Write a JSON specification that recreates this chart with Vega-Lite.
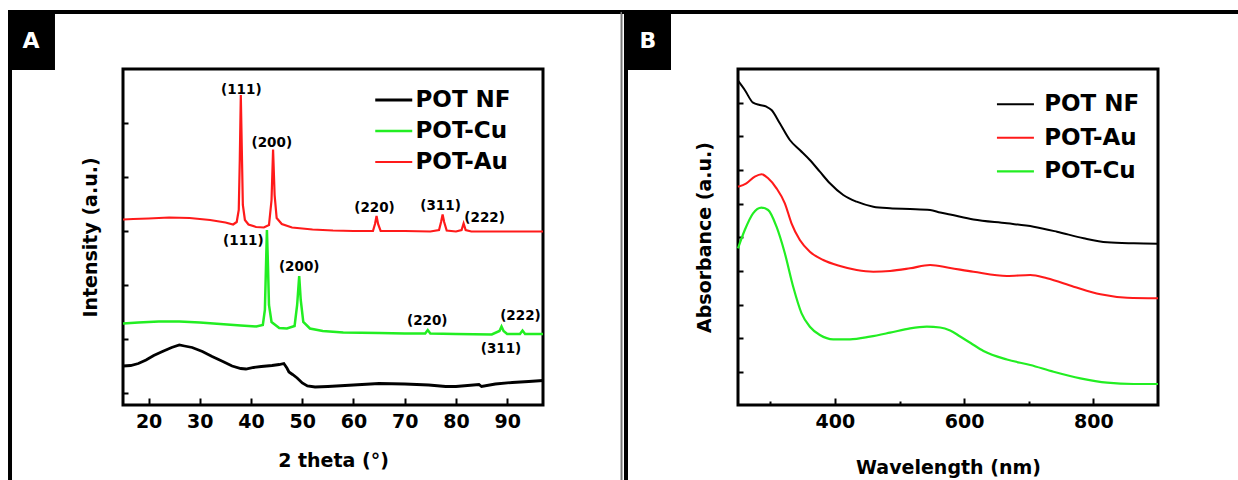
{
  "$schema": "https://vega.github.io/schema/vega-lite/v6.json",
  "background": "white",
  "padding": {"left": 4, "top": 6, "right": 0, "bottom": 0},
  "autosize": {"type": "pad"},
  "bounds": "flush",
  "spacing": 195,
  "config": {
    "view": {"stroke": "black", "strokeWidth": 3},
    "axis": {"domain": false, "grid": false, "tickColor": "black", "tickWidth": 2,
      "labelFont": "DejaVu Sans", "labelFontWeight": "bold", "labelFontSize": 19, "labelColor": "black",
      "titleFont": "DejaVu Sans", "titleFontWeight": "bold", "titleFontSize": 19, "titleColor": "black"},
    "legend": {"title": null, "orient": "none", "padding": 0, "symbolType": "M-1,0H3", "symbolSize": 342,
      "symbolStrokeWidth": 2.5, "labelFont": "DejaVu Sans", "labelFontWeight": "bold", "labelFontSize": 23,
      "labelColor": "black", "labelLimit": 300}
  },
  "resolve": {"scale": {"color": "independent", "strokeWidth": "independent"}, "legend": {"color": "independent"}},
  "datasets": {
    "xrd": [
      {"s":"POT-Au","t":15,"i":185.5},{"s":"POT-Au","t":17,"i":186},{"s":"POT-Au","t":20,"i":186.5},{"s":"POT-Au","t":24,"i":187.5},
      {"s":"POT-Au","t":28,"i":187},{"s":"POT-Au","t":32,"i":185},{"s":"POT-Au","t":35,"i":182.5},{"s":"POT-Au","t":36.5,"i":180.5},
      {"s":"POT-Au","t":37.2,"i":183},{"s":"POT-Au","t":37.6,"i":195},{"s":"POT-Au","t":37.8,"i":245},{"s":"POT-Au","t":38.0,"i":310},
      {"s":"POT-Au","t":38.2,"i":255},{"s":"POT-Au","t":38.4,"i":200},{"s":"POT-Au","t":38.8,"i":185},{"s":"POT-Au","t":39.5,"i":180.5},
      {"s":"POT-Au","t":41,"i":178},{"s":"POT-Au","t":42.5,"i":177.5},{"s":"POT-Au","t":43.5,"i":180},{"s":"POT-Au","t":44.0,"i":205},
      {"s":"POT-Au","t":44.3,"i":255.5},{"s":"POT-Au","t":44.6,"i":210},{"s":"POT-Au","t":45,"i":187},{"s":"POT-Au","t":46,"i":181},
      {"s":"POT-Au","t":48,"i":177.5},{"s":"POT-Au","t":52,"i":175.5},{"s":"POT-Au","t":56,"i":174.5},{"s":"POT-Au","t":60,"i":174},
      {"s":"POT-Au","t":63.8,"i":174},{"s":"POT-Au","t":64.2,"i":181},{"s":"POT-Au","t":64.5,"i":189},{"s":"POT-Au","t":64.8,"i":181},
      {"s":"POT-Au","t":65.3,"i":174},{"s":"POT-Au","t":70,"i":174},{"s":"POT-Au","t":75,"i":173.5},{"s":"POT-Au","t":76.7,"i":175},
      {"s":"POT-Au","t":77.1,"i":183},{"s":"POT-Au","t":77.4,"i":190.5},{"s":"POT-Au","t":77.7,"i":183},{"s":"POT-Au","t":78.2,"i":174.5},
      {"s":"POT-Au","t":80,"i":173.5},{"s":"POT-Au","t":81.1,"i":175},{"s":"POT-Au","t":81.5,"i":181.5},{"s":"POT-Au","t":81.9,"i":175},
      {"s":"POT-Au","t":83,"i":173.5},{"s":"POT-Au","t":90,"i":173.5},{"s":"POT-Au","t":97,"i":173.5},
      {"s":"POT-Cu","t":15,"i":81.5},{"s":"POT-Cu","t":18,"i":82.5},{"s":"POT-Cu","t":22,"i":83.5},{"s":"POT-Cu","t":26,"i":83.5},
      {"s":"POT-Cu","t":30,"i":82.5},{"s":"POT-Cu","t":34,"i":81},{"s":"POT-Cu","t":38,"i":79.5},{"s":"POT-Cu","t":41,"i":78.5},
      {"s":"POT-Cu","t":42.3,"i":80},{"s":"POT-Cu","t":42.7,"i":95},{"s":"POT-Cu","t":42.9,"i":135},{"s":"POT-Cu","t":43.1,"i":175},
      {"s":"POT-Cu","t":43.3,"i":140},{"s":"POT-Cu","t":43.5,"i":100},{"s":"POT-Cu","t":44.0,"i":83},{"s":"POT-Cu","t":45.5,"i":77},
      {"s":"POT-Cu","t":47,"i":76.5},{"s":"POT-Cu","t":48.5,"i":79},{"s":"POT-Cu","t":49.0,"i":100},{"s":"POT-Cu","t":49.4,"i":129},
      {"s":"POT-Cu","t":49.7,"i":105},{"s":"POT-Cu","t":50.2,"i":83},{"s":"POT-Cu","t":51.5,"i":76.5},{"s":"POT-Cu","t":54,"i":74},
      {"s":"POT-Cu","t":58,"i":72.5},{"s":"POT-Cu","t":65,"i":72},{"s":"POT-Cu","t":70,"i":71.5},{"s":"POT-Cu","t":74,"i":71.5},
      {"s":"POT-Cu","t":74.5,"i":75},{"s":"POT-Cu","t":75,"i":71.5},{"s":"POT-Cu","t":80,"i":71},{"s":"POT-Cu","t":87,"i":70.5},
      {"s":"POT-Cu","t":88.5,"i":74},{"s":"POT-Cu","t":88.9,"i":78.5},{"s":"POT-Cu","t":89.3,"i":74},{"s":"POT-Cu","t":90,"i":71},
      {"s":"POT-Cu","t":92.5,"i":71},{"s":"POT-Cu","t":93.0,"i":74.5},{"s":"POT-Cu","t":93.5,"i":71},{"s":"POT-Cu","t":97,"i":71},
      {"s":"POT NF","t":15,"i":39},{"s":"POT NF","t":16.5,"i":39.5},{"s":"POT NF","t":18,"i":41.5},{"s":"POT NF","t":19.5,"i":45},
      {"s":"POT NF","t":21,"i":49.5},{"s":"POT NF","t":22.7,"i":53.5},{"s":"POT NF","t":24.5,"i":57.5},{"s":"POT NF","t":26,"i":60},
      {"s":"POT NF","t":27,"i":59},{"s":"POT NF","t":28.5,"i":57.5},{"s":"POT NF","t":30.5,"i":53.5},{"s":"POT NF","t":32.4,"i":48.5},
      {"s":"POT NF","t":34.5,"i":43.5},{"s":"POT NF","t":36.3,"i":39},{"s":"POT NF","t":38,"i":36.5},{"s":"POT NF","t":39,"i":36},
      {"s":"POT NF","t":40.5,"i":37.5},{"s":"POT NF","t":42,"i":38.5},{"s":"POT NF","t":44.1,"i":39.5},{"s":"POT NF","t":45.5,"i":40.5},
      {"s":"POT NF","t":46.4,"i":41.5},{"s":"POT NF","t":47,"i":37},{"s":"POT NF","t":47.4,"i":33},{"s":"POT NF","t":48.1,"i":30.5},
      {"s":"POT NF","t":49,"i":27},{"s":"POT NF","t":50,"i":22},{"s":"POT NF","t":51,"i":19},{"s":"POT NF","t":52.5,"i":18},
      {"s":"POT NF","t":55,"i":18.5},{"s":"POT NF","t":60,"i":20},{"s":"POT NF","t":65,"i":21.5},{"s":"POT NF","t":70,"i":21},
      {"s":"POT NF","t":74.7,"i":20},{"s":"POT NF","t":78,"i":18.5},{"s":"POT NF","t":80,"i":18.5},{"s":"POT NF","t":84.5,"i":20.5},
      {"s":"POT NF","t":85,"i":18.5},{"s":"POT NF","t":87.7,"i":21},{"s":"POT NF","t":91,"i":22.5},{"s":"POT NF","t":94.2,"i":23.5},
      {"s":"POT NF","t":97,"i":24.5}
    ],
    "peaks": [
      {"t":38.1,"i":315,"lab":"(111)"},{"t":44.05,"i":261.7,"lab":"(200)"},{"t":64.1,"i":196.7,"lab":"(220)"},
      {"t":77.0,"i":199,"lab":"(311)"},{"t":85.6,"i":186.7,"lab":"(222)"},
      {"t":38.5,"i":164.3,"lab":"(111)"},{"t":49.4,"i":138.3,"lab":"(200)"},{"t":74.4,"i":84.3,"lab":"(220)"},
      {"t":92.6,"i":89,"lab":"(222)"},{"t":88.8,"i":56.3,"lab":"(311)"}
    ],
    "uv": [
      {"s":"POT NF","w":250,"a":324.3},{"s":"POT NF","w":260.5,"a":315},{"s":"POT NF","w":273.3,"a":302.3},{"s":"POT NF","w":283.7,"a":300},
      {"s":"POT NF","w":294,"a":298.3},{"s":"POT NF","w":301.9,"a":295},{"s":"POT NF","w":314.7,"a":281.7},{"s":"POT NF","w":330.2,"a":265},
      {"s":"POT NF","w":345.7,"a":255},{"s":"POT NF","w":361.2,"a":245},{"s":"POT NF","w":376.7,"a":233.3},{"s":"POT NF","w":392.2,"a":221.7},
      {"s":"POT NF","w":412.9,"a":210},{"s":"POT NF","w":433.6,"a":203.3},{"s":"POT NF","w":459.4,"a":198.3},{"s":"POT NF","w":485.3,"a":196.7},
      {"s":"POT NF","w":516.3,"a":196},{"s":"POT NF","w":547.3,"a":195},{"s":"POT NF","w":563,"a":192.5},{"s":"POT NF","w":578.3,"a":190.5},
      {"s":"POT NF","w":614.4,"a":185.5},{"s":"POT NF","w":666.2,"a":181.7},{"s":"POT NF","w":707.4,"a":178.3},{"s":"POT NF","w":743.7,"a":173.3},
      {"s":"POT NF","w":785,"a":166.7},{"s":"POT NF","w":821.2,"a":162.7},{"s":"POT NF","w":862.5,"a":161.7},{"s":"POT NF","w":900,"a":161.3},
      {"s":"POT-Au","w":250,"a":218.3},{"s":"POT-Au","w":263,"a":221.7},{"s":"POT-Au","w":276,"a":228.3},{"s":"POT-Au","w":286.4,"a":230.7},
      {"s":"POT-Au","w":296.6,"a":226.7},{"s":"POT-Au","w":309.6,"a":216.7},{"s":"POT-Au","w":322.5,"a":201.7},{"s":"POT-Au","w":332.8,"a":181.7},
      {"s":"POT-Au","w":345.7,"a":165},{"s":"POT-Au","w":361.2,"a":153.3},{"s":"POT-Au","w":381.9,"a":145},{"s":"POT-Au","w":407.8,"a":139},
      {"s":"POT-Au","w":433.6,"a":135},{"s":"POT-Au","w":459.4,"a":133.3},{"s":"POT-Au","w":485.3,"a":134},{"s":"POT-Au","w":516.3,"a":136.7},
      {"s":"POT-Au","w":547.3,"a":140},{"s":"POT-Au","w":578.3,"a":137},{"s":"POT-Au","w":614.4,"a":133.3},{"s":"POT-Au","w":666.2,"a":129},
      {"s":"POT-Au","w":702.3,"a":130},{"s":"POT-Au","w":728.2,"a":126.7},{"s":"POT-Au","w":769.5,"a":118.3},{"s":"POT-Au","w":810.9,"a":110.7},
      {"s":"POT-Au","w":852.2,"a":107.3},{"s":"POT-Au","w":900,"a":106.7},
      {"s":"POT-Cu","w":250,"a":156.7},{"s":"POT-Cu","w":260.5,"a":175},{"s":"POT-Cu","w":273.3,"a":191.7},{"s":"POT-Cu","w":286.4,"a":197.3},
      {"s":"POT-Cu","w":296.6,"a":195},{"s":"POT-Cu","w":309.6,"a":178.3},{"s":"POT-Cu","w":322.5,"a":151.7},{"s":"POT-Cu","w":335.4,"a":118.3},
      {"s":"POT-Cu","w":348.4,"a":91.7},{"s":"POT-Cu","w":361.2,"a":78.3},{"s":"POT-Cu","w":376.7,"a":70},{"s":"POT-Cu","w":397.4,"a":65.7},
      {"s":"POT-Cu","w":423.3,"a":65.7},{"s":"POT-Cu","w":454.3,"a":68.3},{"s":"POT-Cu","w":485.3,"a":72.3},{"s":"POT-Cu","w":516.3,"a":76.7},
      {"s":"POT-Cu","w":542.2,"a":78.3},{"s":"POT-Cu","w":562.8,"a":77.5},{"s":"POT-Cu","w":578.3,"a":74.5},{"s":"POT-Cu","w":593.8,"a":68.5},
      {"s":"POT-Cu","w":610,"a":62},{"s":"POT-Cu","w":629.9,"a":54},{"s":"POT-Cu","w":666.2,"a":45.5},{"s":"POT-Cu","w":702.3,"a":40},{"s":"POT-Cu","w":738.4,"a":33.3},
      {"s":"POT-Cu","w":779.8,"a":26.7},{"s":"POT-Cu","w":821.2,"a":22.3},{"s":"POT-Cu","w":862.5,"a":21},{"s":"POT-Cu","w":900,"a":21}
    ]
  },
  "hconcat": [
    {
      "width": 420, "height": 336,
      "layer": [
        {
          "data": {"name": "xrd"},
          "mark": {"type": "line", "interpolate": "linear"},
          "encoding": {
            "x": {"field": "t", "type": "quantitative", "scale": {"domain": [15, 97], "nice": false, "zero": false},
              "axis": {"title": "2 theta (°)", "values": [20,25,30,35,40,45,50,55,60,65,70,75,80,85,90,95],
                "labelExpr": "datum.value % 10 === 0 ? datum.label : ''",
                "tickSize": {"condition": {"test": "datum.value % 10 === 0", "value": -7}, "value": -4},
                "labelPadding": 14, "titlePadding": 20}},
            "y": {"field": "i", "type": "quantitative", "scale": {"domain": [0, 336], "nice": false, "zero": false},
              "axis": {"title": "Intensity (a.u.)", "labels": false,
                "values": [12.5,39.4,66.3,93.2,120.1,147,173.9,200.8,227.7,254.6,281.5,308.4],
                "tickSize": -5, "titlePadding": 22}},
            "color": {"field": "s", "type": "nominal",
              "scale": {"domain": ["POT NF", "POT-Cu", "POT-Au"], "range": ["#000000", "#22ee22", "#ff1a1a"]},
              "legend": {"legendX": 250, "legendY": 19.5, "labelOffset": 19.5, "rowPadding": 7}},
            "strokeWidth": {"field": "s", "type": "nominal",
              "scale": {"domain": ["POT NF", "POT-Cu", "POT-Au"], "range": [2.8, 2.2, 2.2]}, "legend": null}
          }
        },
        {
          "data": {"name": "peaks"},
          "mark": {"type": "text", "font": "DejaVu Sans", "fontWeight": "bold", "fontSize": 13.5, "color": "black", "baseline": "middle", "align": "center"},
          "encoding": {
            "x": {"field": "t", "type": "quantitative", "scale": {"domain": [15, 97], "nice": false, "zero": false}},
            "y": {"field": "i", "type": "quantitative", "scale": {"domain": [0, 336], "nice": false, "zero": false}},
            "text": {"field": "lab"}
          }
        },
        {
          "data": {"values": [{}]},
          "mark": {"type": "rule", "color": "black", "strokeWidth": 4},
          "encoding": {
            "x": {"datum": -7.45, "type": "quantitative", "scale": {"domain": [15, 97], "nice": false, "zero": false}},
            "x2": {"datum": 112.42},
            "y": {"datum": 393, "type": "quantitative", "scale": {"domain": [0, 336], "nice": false, "zero": false}}
          }
        },
        {
          "data": {"values": [{}]},
          "mark": {"type": "rule", "color": "black", "strokeWidth": 4},
          "encoding": {
            "x": {"datum": -7.06, "type": "quantitative", "scale": {"domain": [15, 97], "nice": false, "zero": false}},
            "y": {"datum": 395, "type": "quantitative", "scale": {"domain": [0, 336], "nice": false, "zero": false}},
            "y2": {"datum": -85}
          }
        },
        {
          "data": {"values": [{}]},
          "mark": {"type": "rule", "color": "#777777", "strokeWidth": 2},
          "encoding": {
            "x": {"datum": 112.33, "type": "quantitative", "scale": {"domain": [15, 97], "nice": false, "zero": false}},
            "y": {"datum": 393, "type": "quantitative", "scale": {"domain": [0, 336], "nice": false, "zero": false}},
            "y2": {"datum": -85}
          }
        },
        {
          "data": {"values": [{}]},
          "mark": {"type": "rect", "color": "black"},
          "encoding": {
            "x": {"datum": -7.45, "type": "quantitative", "scale": {"domain": [15, 97], "nice": false, "zero": false}},
            "x2": {"datum": 1.72},
            "y": {"datum": 393, "type": "quantitative", "scale": {"domain": [0, 336], "nice": false, "zero": false}},
            "y2": {"datum": 335}
          }
        },
        {
          "data": {"values": [{}]},
          "mark": {"type": "text", "text": "A", "font": "DejaVu Sans", "fontWeight": "bold", "fontSize": 22, "color": "white", "align": "center", "baseline": "middle"},
          "encoding": {
            "x": {"datum": -2.96, "type": "quantitative", "scale": {"domain": [15, 97], "nice": false, "zero": false}},
            "y": {"datum": 364, "type": "quantitative", "scale": {"domain": [0, 336], "nice": false, "zero": false}}
          }
        }
      ]
    },
    {
      "width": 420, "height": 336,
      "layer": [
        {
          "data": {"name": "uv"},
          "mark": {"type": "line", "interpolate": "monotone"},
          "encoding": {
            "x": {"field": "w", "type": "quantitative", "scale": {"domain": [250, 900], "nice": false, "zero": false},
              "axis": {"title": "Wavelength (nm)", "values": [300,400,500,600,700,800],
                "labelExpr": "datum.value % 200 === 0 ? datum.label : ''",
                "tickSize": {"condition": {"test": "datum.value % 200 === 0", "value": -7}, "value": -4},
                "labelPadding": 14, "titlePadding": 27}},
            "y": {"field": "a", "type": "quantitative", "scale": {"domain": [0, 336], "nice": false, "zero": false},
              "axis": {"title": "Absorbance (a.u.)", "labels": false,
                "values": [33.3,66.9,100.5,134.1,167.7,201.3,234.9,268.5,302.1],
                "tickSize": -5, "titlePadding": 23}},
            "color": {"field": "s", "type": "nominal",
              "scale": {"domain": ["POT NF", "POT-Au", "POT-Cu"], "range": ["#000000", "#ff1a1a", "#22ee22"]},
              "legend": {"legendX": 256.7, "legendY": 23.8, "labelOffset": 26.5, "rowPadding": 9.5}},
            "strokeWidth": {"field": "s", "type": "nominal",
              "scale": {"domain": ["POT NF", "POT-Au", "POT-Cu"], "range": [2, 2.2, 2.6]}, "legend": null}
          }
        },
        {
          "data": {"values": [{}]},
          "mark": {"type": "rule", "color": "black", "strokeWidth": 4},
          "encoding": {
            "x": {"datum": 70.48, "type": "quantitative", "scale": {"domain": [250, 900], "nice": false, "zero": false}},
            "x2": {"datum": 1026.9},
            "y": {"datum": 393, "type": "quantitative", "scale": {"domain": [0, 336], "nice": false, "zero": false}}
          }
        },
        {
          "data": {"values": [{}]},
          "mark": {"type": "rule", "color": "black", "strokeWidth": 4},
          "encoding": {
            "x": {"datum": 76.67, "type": "quantitative", "scale": {"domain": [250, 900], "nice": false, "zero": false}},
            "y": {"datum": 395, "type": "quantitative", "scale": {"domain": [0, 336], "nice": false, "zero": false}},
            "y2": {"datum": -85}
          }
        },
        {
          "data": {"values": [{}]},
          "mark": {"type": "rect", "color": "black"},
          "encoding": {
            "x": {"datum": 73.57, "type": "quantitative", "scale": {"domain": [250, 900], "nice": false, "zero": false}},
            "x2": {"datum": 146.31},
            "y": {"datum": 393, "type": "quantitative", "scale": {"domain": [0, 336], "nice": false, "zero": false}},
            "y2": {"datum": 335}
          }
        },
        {
          "data": {"values": [{}]},
          "mark": {"type": "text", "text": "B", "font": "DejaVu Sans", "fontWeight": "bold", "fontSize": 22, "color": "white", "align": "center", "baseline": "middle"},
          "encoding": {
            "x": {"datum": 110.71, "type": "quantitative", "scale": {"domain": [250, 900], "nice": false, "zero": false}},
            "y": {"datum": 364, "type": "quantitative", "scale": {"domain": [0, 336], "nice": false, "zero": false}}
          }
        }
      ]
    }
  ]
}
